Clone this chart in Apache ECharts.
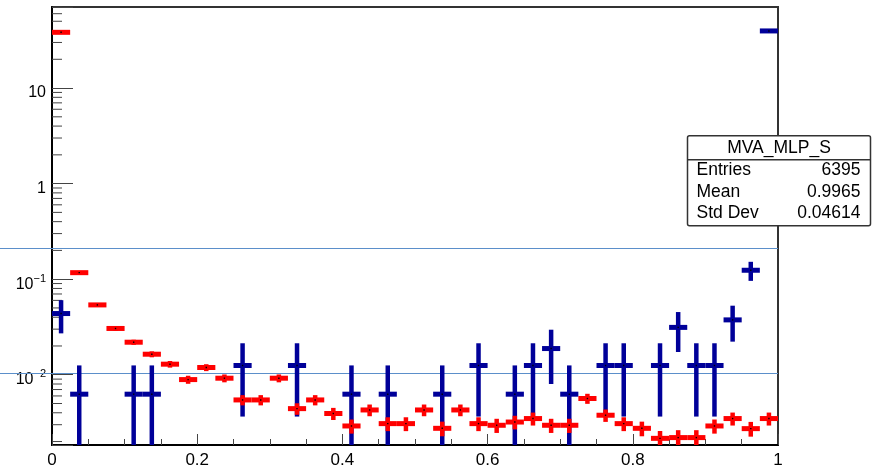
<!DOCTYPE html>
<html><head><meta charset="utf-8">
<script src="https://cdn.jsdelivr.net/npm/echarts@6/dist/echarts.min.js"></script>
<style>html,body{margin:0;padding:0;background:#fff}#c{width:874px;height:469px}</style>
</head><body><div id="c"></div>
<script>
// ---- data ----
const binWidth = 0.025;
const binCenters = [0.0125,0.0375,0.0625,0.0875,0.1125,0.1375,0.1625,0.1875,0.2125,0.2375,
  0.2625,0.2875,0.3125,0.3375,0.3625,0.3875,0.4125,0.4375,0.4625,0.4875,
  0.5125,0.5375,0.5625,0.5875,0.6125,0.6375,0.6625,0.6875,0.7125,0.7375,
  0.7625,0.7875,0.8125,0.8375,0.8625,0.8875,0.9125,0.9375,0.9625,0.9875];
const redValues = [38.3,0.117,0.0538,0.0305,0.0219,0.0164,0.0129,0.0089,0.0119,0.0092,
  0.00545,0.00545,0.0092,0.00442,0.00545,0.00393,0.00291,0.00428,0.00308,0.00308,
  0.00428,0.00275,0.00428,0.00308,0.00296,0.0032,0.00348,0.00296,0.00296,0.00564,
  0.00377,0.00308,0.00275,0.00216,0.0022,0.0022,0.00291,0.00348,0.00273,0.00348];
const redErrors = [0.056,0.0031,0.0021,0.0016,0.00135,0.00117,0.00103,0.00086,0.00099,0.00087,
  0.00067,0.00067,0.00087,0.00061,0.00067,0.00057,0.00049,0.0006,0.00051,0.00051,
  0.0006,0.00048,0.0006,0.00051,0.0005,0.00052,0.00054,0.0005,0.0005,0.00068,
  0.00056,0.00051,0.00048,0.00042,0.00043,0.00043,0.00049,0.00054,0.00048,0.00054];
const blueValues = [0.0437,0.00626,0,0,0.00626,0.00626,0,0,0,0,
  0.0125,0,0,0.0125,0,0,0.00626,0,0.00626,0,
  0,0.00626,0,0.0125,0,0.00626,0.0125,0.0188,0.00626,0,
  0.0125,0.0125,0,0.0125,0.0313,0.0125,0.0125,0.0375,0.124,39.6];
const blueErrors = [0.0166,0.00626,0,0,0.00626,0.00626,0,0,0,0,
  0.00885,0,0,0.00885,0,0,0.00626,0,0.00626,0,
  0,0.00626,0,0.00885,0,0.00626,0.00885,0.0108,0.00626,0,
  0.00885,0.00885,0,0.00885,0.014,0.00885,0.00885,0.0153,0.028,0.5];
const yMinorTicks = [0.002,0.003,0.004,0.005,0.006,0.007,0.008,0.009,
  0.02,0.03,0.04,0.05,0.06,0.07,0.08,0.09,
  0.2,0.3,0.4,0.5,0.6,0.7,0.8,0.9,
  2,3,4,5,6,7,8,9,20,30,40,50,60,70];
const xTickLabels = ['0','0.2','0.4','0.6','0.8','1'];
const guideLines = [0.211, 0.0104];
const statsTitle = 'MVA_MLP_S';
const statsRows = [['Entries','6395'],['Mean','0.9965'],['Std Dev','0.04614']];
const Y_MIN = 0.00184, Y_MAX = 70.5;

// ---- chart ----
const FONT = '"Liberation Sans", Arial, Helvetica, sans-serif';
const chart = echarts.init(document.getElementById('c'), null, {renderer:'canvas'});

function errRender(color) {
  return function (params, api) {
    const x = api.value(0), v = api.value(1), e = api.value(2);
    const lo = Math.max(v - e, Y_MIN), hi = Math.min(v + e, Y_MAX);
    const a = api.coord([x - binWidth / 2, v]), b = api.coord([x + binWidth / 2, v]);
    const top = api.coord([x, hi]), bot = api.coord([x, lo]);
    const c = api.coord([x, v]);
    return {type:'group', children:[
      {type:'line', shape:{x1:top[0],y1:top[1],x2:bot[0],y2:bot[1]}, style:{stroke:color,lineWidth:4.5}},
      {type:'line', shape:{x1:a[0],y1:a[1],x2:b[0],y2:b[1]}, style:{stroke:color,lineWidth:5}},
      {type:'rect', shape:{x:c[0]-0.7,y:c[1]-0.7,width:1.4,height:1.4}, style:{fill:'#000'}}
    ]};
  };
}

const blueData = [], redData = [];
binCenters.forEach((x, i) => {
  if (blueValues[i] > 0) blueData.push([x, blueValues[i], blueErrors[i]]);
  redData.push([x, redValues[i], redErrors[i]]);
});

chart.setOption({
  animation: false,
  backgroundColor: '#fff',
  grid: {left: 52, right: 96, top: 7, bottom: 24, show: true, borderColor: '#333', borderWidth: 2, backgroundColor: 'transparent'},
  xAxis: {
    type: 'value', min: 0, max: 1, interval: 0.2,
    axisLine: {show: true, onZero: false, lineStyle: {color: '#000', width: 2}},
    axisTick: {show: true, inside: true, length: 11, lineStyle: {color: '#444', width: 1}},
    minorTick: {show: true, splitNumber: 4, length: 6, lineStyle: {color: '#444', width: 1}},
    splitLine: {show: false},
    axisLabel: {fontSize: 17, color: '#000', fontFamily: FONT, margin: 7,
      formatter: v => xTickLabels[Math.round(v / 0.2)] || ''}
  },
  yAxis: {
    type: 'log', min: Y_MIN, max: Y_MAX, logBase: 10,
    axisLine: {show: true, lineStyle: {color: '#000', width: 2}},
    axisTick: {show: true, inside: true, length: 21, lineStyle: {color: '#444', width: 1}},
    splitLine: {show: false},
    axisLabel: {
      fontSize: 16, color: '#000', fontFamily: FONT, margin: 6, padding: [10, 0, 0, 0],
      formatter: v => {
        const e = Math.log10(v), r = Math.round(e);
        if (Math.abs(e - r) > 1e-6) return '';
        if (r === 0) return '1';
        if (r === 1) return '10';
        return '{b|10}{s|' + (r < 0 ? '\u2212' : '') + Math.abs(r) + '}';
      },
      rich: {
        b: {fontSize: 16, fontFamily: FONT, color: '#000', lineHeight: 22},
        s: {fontSize: 11, fontFamily: FONT, color: '#000', verticalAlign: 'top', lineHeight: 12}
      }
    }
  },
  series: [
    {type: 'custom', name: 'minorTicks', silent: true, z: 1,
      renderItem: (params, api) => {
        const p = api.coord([0, api.value(1)]);
        return {type:'line', shape:{x1:p[0], y1:p[1], x2:p[0] + 10, y2:p[1]}, style:{stroke:'#444', lineWidth:1}};
      },
      data: yMinorTicks.map(v => [0, v])},
    {type: 'custom', name: 'signal', renderItem: errRender('#000099'), data: blueData, z: 3, clip: true},
    {type: 'custom', name: 'background', renderItem: errRender('#ff0000'), data: redData, z: 4, clip: true}
  ]
});

const xr = chart.convertToPixel({xAxisIndex: 0}, 1);
const graphics = guideLines.map((v, i) => {
  const y = Math.round(chart.convertToPixel({yAxisIndex: 0}, v)) + 0.5;
  return {type: 'line', id: 'g' + i, z: 1, silent: true,
    shape: {x1: 0, y1: y, x2: xr, y2: y}, style: {stroke: '#5b8fca', lineWidth: 1}};
});
const box = {type: 'group', id: 'stats', left: 685, top: 135, z: 100, children: [
  {type: 'rect', shape: {x: 0, y: 0, width: 183, height: 90, r: 2}, style: {fill: '#fff', stroke: '#333', lineWidth: 1.5}},
  {type: 'line', shape: {x1: 0, y1: 24, x2: 183, y2: 24}, style: {stroke: '#333', lineWidth: 1.5}},
  {type: 'text', x: 91.5, y: 12.5, style: {text: statsTitle, fill: '#000', font: '17.5px ' + FONT, textAlign: 'center', textVerticalAlign: 'middle'}}
]};
statsRows.forEach((r, i) => {
  const y = 34.5 + i * 21.5;
  box.children.push({type: 'text', x: 9, y: y, style: {text: r[0], fill: '#000', font: '17.5px ' + FONT, textAlign: 'left', textVerticalAlign: 'middle'}});
  box.children.push({type: 'text', x: 173, y: y, style: {text: r[1], fill: '#000', font: '17.5px ' + FONT, textAlign: 'right', textVerticalAlign: 'middle'}});
});
graphics.push(box);
chart.setOption({graphic: graphics});
</script></body></html>
